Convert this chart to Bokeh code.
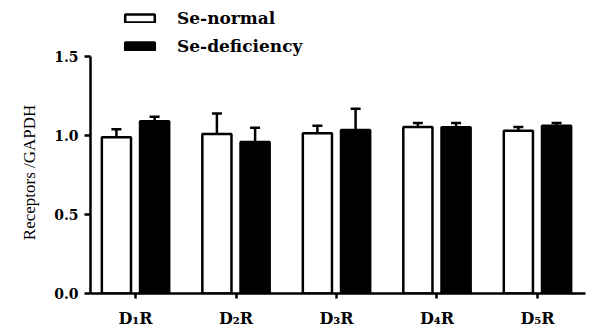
from bokeh.plotting import figure
from bokeh.models import (ColumnDataSource, Range1d, FixedTicker, Whisker, TeeHead,
                          Legend, LegendItem)
from bokeh.embed import file_html
from bokeh.resources import INLINE

categories = ["D\u2081R", "D\u2082R", "D\u2083R", "D\u2084R", "D\u2085R"]
se_normal = [0.99, 1.01, 1.015, 1.055, 1.03]
se_normal_err = [0.05, 0.13, 0.048, 0.025, 0.025]
se_deficiency = [1.09, 0.96, 1.036, 1.053, 1.063]
se_deficiency_err = [0.03, 0.09, 0.134, 0.027, 0.017]
y_ticks = [0.0, 0.5, 1.0, 1.5]
y_tick_labels = ["0.0", "0.5", "1.0", "1.5"]

idx = list(range(len(categories)))
off = 0.19
src_n = ColumnDataSource(dict(
    x=[i - off for i in idx], top=se_normal,
    upper=[v + e for v, e in zip(se_normal, se_normal_err)]))
src_d = ColumnDataSource(dict(
    x=[i + off for i in idx], top=se_deficiency,
    upper=[v + e for v, e in zip(se_deficiency, se_deficiency_err)]))

p = figure(width=595, height=333, output_backend="svg", toolbar_location=None,
           x_range=Range1d(-0.448, 4.478), y_range=Range1d(0, 1.83),
           min_border_left=90, min_border_right=10, min_border_top=4,
           min_border_bottom=40)
p.outline_line_color = None
p.xgrid.visible = False
p.ygrid.visible = False
p.background_fill_color = "white"
p.border_fill_color = "white"

rn = p.vbar(x="x", top="top", width=0.29, source=src_n, fill_color="white",
            line_color="black", line_width=2.5)
rd = p.vbar(x="x", top="top", width=0.29, source=src_d, fill_color="black",
            line_color="black", line_width=2.5)

for src in (src_n, src_d):
    w = Whisker(base="x", lower="top", upper="upper", source=src,
                line_color="black", line_width=2.5,
                upper_head=TeeHead(size=10, line_color="black", line_width=2.5),
                lower_head=None)
    p.add_layout(w)

# axes
p.yaxis.bounds = (0, 1.5)
p.yaxis.ticker = FixedTicker(ticks=y_ticks)
p.yaxis.major_label_overrides = {t: l for t, l in zip(y_ticks, y_tick_labels)}
p.yaxis.minor_tick_line_color = None
p.yaxis.major_tick_in = 0
p.yaxis.major_tick_out = 6
p.yaxis.axis_line_width = 2.5
p.yaxis.major_tick_line_width = 2.5
p.yaxis.major_label_text_font = "DejaVu Serif"
p.yaxis.major_label_text_font_style = "bold"
p.yaxis.major_label_text_font_size = "14px"
p.yaxis.major_label_text_color = "black"
p.yaxis.major_label_standoff = 6
p.yaxis.axis_label = "Receptors /GAPDH" + "\u00a0" * 11
p.yaxis.axis_label_text_font = "Liberation Serif"
p.yaxis.axis_label_text_font_style = "normal"
p.yaxis.axis_label_text_font_size = "17px"
p.yaxis.axis_label_text_color = "black"
p.yaxis.axis_label_standoff = 12

p.xaxis.ticker = FixedTicker(ticks=idx)
p.xaxis.major_label_overrides = {i: c for i, c in zip(idx, categories)}
p.xaxis.minor_tick_line_color = None
p.xaxis.major_tick_in = 0
p.xaxis.major_tick_out = 5
p.xaxis.axis_line_width = 2.5
p.xaxis.major_tick_line_width = 2.5
p.xaxis.major_label_text_font = "DejaVu Serif"
p.xaxis.major_label_text_font_style = "bold"
p.xaxis.major_label_text_font_size = "16px"
p.xaxis.major_label_text_color = "black"
p.xaxis.major_label_standoff = 10

legend = Legend(items=[LegendItem(label="Se-normal", renderers=[rn]),
                       LegendItem(label="Se-deficiency", renderers=[rd])],
                location=(31, 237), padding=0, margin=0, spacing=8,
                glyph_width=37, glyph_height=10, label_height=20,
                label_standoff=19, border_line_color=None,
                background_fill_alpha=0,
                label_text_font="DejaVu Serif", label_text_font_style="bold",
                label_text_font_size="17px", label_text_color="black")
p.add_layout(legend, "center")

open("out.html", "w").write(file_html(p, INLINE))
